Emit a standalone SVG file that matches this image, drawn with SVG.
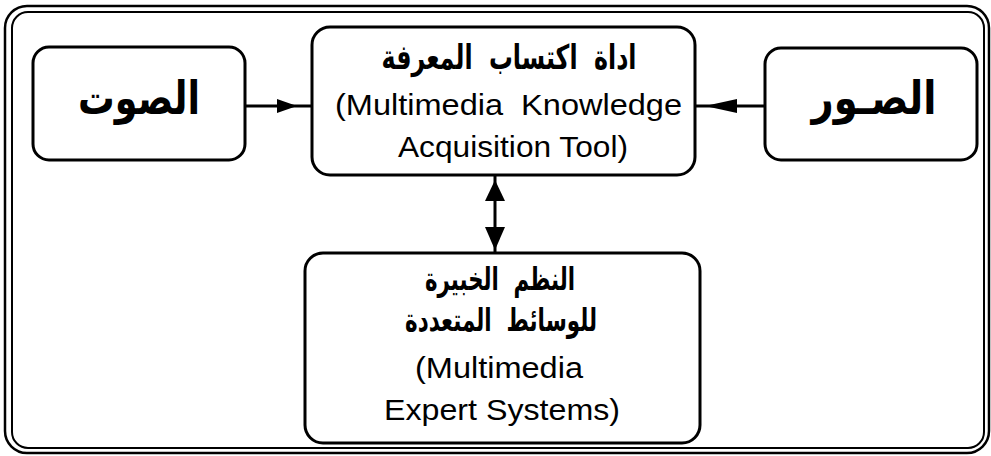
<svg xmlns="http://www.w3.org/2000/svg" width="991" height="456" viewBox="0 0 991 456">
  <style>
    .frame { fill: none; stroke: #000; }
    .box { fill: #fff; stroke: #000; stroke-width: 3; }
    .ar { font-family: "DejaVu Sans", sans-serif; font-weight: bold; fill: #000; text-anchor: middle; white-space: pre; }
    .en { font-family: "Liberation Sans", Arial, sans-serif; fill: #000; white-space: pre; }
    .conn { stroke: #000; stroke-width: 3; fill: none; }
    .head { fill: #000; stroke: none; }
  </style>
  <rect width="991" height="456" fill="#fff"/>
  <g id="frame">
    <rect class="frame" x="5" y="6" width="984" height="447" rx="22" stroke-width="2.5"/>
    <rect class="frame" x="12" y="12" width="972" height="436" rx="16" stroke-width="2"/>
  </g>
  <g id="connectors">
    <line class="conn" x1="245" y1="106" x2="312" y2="106"/>
    <polygon class="head" points="297,106 277,99 277,113"/>
    <line class="conn" x1="695" y1="106" x2="765" y2="106"/>
    <polygon class="head" points="705,106 737,99 737,113"/>
    <line class="conn" x1="495" y1="175" x2="495" y2="253"/>
    <polygon class="head" points="495,180 485,201 505,201"/>
    <polygon class="head" points="495,250 485,227 505,227"/>
  </g>
  <g id="node-sound">
    <rect class="box" x="33" y="47" width="212" height="113" rx="16"/>
    <text class="ar" x="139" y="114" font-size="46" textLength="122" lengthAdjust="spacingAndGlyphs">الصوت</text>
  </g>
  <g id="node-images">
    <rect class="box" x="765" y="48" width="212" height="112" rx="16"/>
    <text class="ar" x="874" y="114" font-size="46" textLength="125" lengthAdjust="spacingAndGlyphs">الصـور</text>
  </g>
  <g id="node-tool">
    <rect class="box" x="312" y="27" width="383" height="148" rx="18"/>
    <text class="ar" x="509" y="69" font-size="34" textLength="255" lengthAdjust="spacingAndGlyphs">اداة  اكتساب  المعرفة</text>
    <text class="en" x="335" y="115" font-size="30" textLength="347" lengthAdjust="spacingAndGlyphs">(Multimedia  Knowledge</text>
    <text class="en" x="398" y="157" font-size="30" textLength="230" lengthAdjust="spacingAndGlyphs">Acquisition Tool)</text>
  </g>
  <g id="node-expert">
    <rect class="box" x="305" y="253" width="395" height="190" rx="18"/>
    <text class="ar" x="500" y="290" font-size="32" textLength="150" lengthAdjust="spacingAndGlyphs">النظم  الخبيرة</text>
    <text class="ar" x="501" y="331" font-size="32" textLength="192" lengthAdjust="spacingAndGlyphs">للوسائط  المتعددة</text>
    <text class="en" x="415" y="378" font-size="30" textLength="168" lengthAdjust="spacingAndGlyphs">(Multimedia</text>
    <text class="en" x="384" y="420" font-size="30" textLength="236" lengthAdjust="spacingAndGlyphs">Expert Systems)</text>
  </g>
</svg>
